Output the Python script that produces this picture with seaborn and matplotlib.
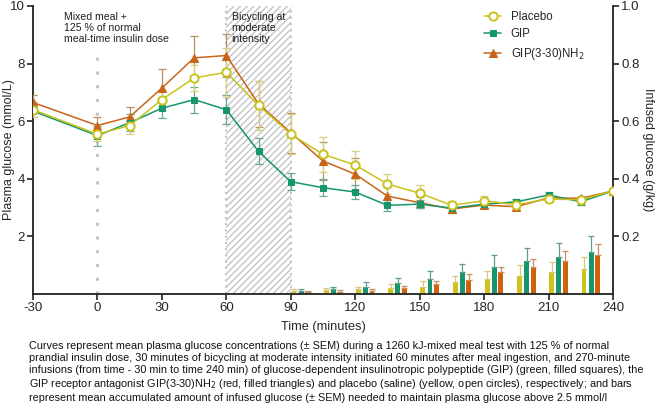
import numpy as np
import pandas as pd
import matplotlib
matplotlib.use("Agg")
import matplotlib.pyplot as plt
import seaborn as sns

times = [-30, 0, 15, 30, 45, 60, 75, 90, 105, 120, 135, 150, 165, 180, 195, 210, 225, 240]
placebo = [6.4, 5.55, 5.85, 6.75, 7.5, 7.7, 6.55, 5.55, 4.85, 4.48, 3.82, 3.5, 3.08, 3.24, 3.1, 3.3, 3.27, 3.58]
placebo_sem = [0.25, 0.25, 0.3, 0.35, 0.45, 0.85, 0.85, 0.7, 0.6, 0.5, 0.35, 0.3, 0.15, 0.15, 0.12, 0.12, 0.1, 0.05]
gip = [6.35, 5.5, 5.95, 6.45, 6.75, 6.4, 4.95, 3.9, 3.69, 3.54, 3.08, 3.12, 2.98, 3.12, 3.2, 3.44, 3.2, 3.58]
gip_sem = [0.2, 0.35, 0.3, 0.35, 0.45, 0.5, 0.45, 0.3, 0.3, 0.25, 0.2, 0.15, 0.12, 0.12, 0.1, 0.1, 0.1, 0.05]
ant = [6.65, 5.85, 6.15, 7.15, 8.2, 8.28, 6.6, 5.6, 4.62, 4.16, 3.4, 3.17, 2.95, 3.09, 3.03, 3.34, 3.32, 3.58]
ant_sem = [0.25, 0.3, 0.35, 0.65, 0.75, 0.75, 0.8, 0.7, 0.65, 0.55, 0.3, 0.2, 0.15, 0.12, 0.1, 0.1, 0.1, 0.05]

bar_times = [75, 90, 105, 120, 135, 150, 165, 180, 195, 210, 225]
bar_placebo = [0.005, 0.012, 0.014, 0.017, 0.021, 0.026, 0.041, 0.053, 0.064, 0.078, 0.088]
bar_placebo_sem = [0.002, 0.004, 0.006, 0.008, 0.012, 0.018, 0.021, 0.026, 0.035, 0.034, 0.04]
bar_gip = [0.003, 0.012, 0.017, 0.026, 0.037, 0.053, 0.076, 0.095, 0.114, 0.128, 0.145]
bar_gip_sem = [0.002, 0.006, 0.009, 0.015, 0.019, 0.026, 0.029, 0.039, 0.045, 0.05, 0.055]
bar_ant = [0.003, 0.006, 0.008, 0.012, 0.021, 0.033, 0.05, 0.076, 0.095, 0.116, 0.137]
bar_ant_sem = [0.002, 0.003, 0.005, 0.006, 0.008, 0.012, 0.018, 0.019, 0.027, 0.033, 0.035]

labels = ["Placebo", "GIP", "GIP(3-30)NH$_2$"]

C_Y = "#c8c21e"
C_G = "#16966a"
C_O = "#c8651a"
C_YB = "#cfc41c"
C_OB = "#d2600e"

sns.set_theme(style="ticks")
plt.rcParams["font.family"] = ["Liberation Sans", "DejaVu Sans"]
plt.rcParams["hatch.linewidth"] = 1.0
plt.rcParams["axes.unicode_minus"] = False

fig = plt.figure(figsize=(6.57, 4.03), dpi=100)
ax = fig.add_axes([33/657, 1-294/403, 580/657, 288/403])
ax2 = ax.twinx()

df = pd.DataFrame({
    "time": times * 3,
    "glucose": placebo + gip + ant,
    "group": [labels[0]] * len(times) + [labels[1]] * len(times) + [labels[2]] * len(times),
})

# shaded exercise region
ax.axvspan(60, 90, facecolor="white", edgecolor="#c4c4c4", hatch="/////", lw=0, zorder=0)
ax.axvline(60, color="#c4c4c4", ls=(0, (1, 2)), lw=1.5, zorder=0.5)
ax.axvline(90, color="#c4c4c4", ls=(0, (1, 2)), lw=1.5, zorder=0.5)
ax.plot([0, 0], [0, 8.5], color="#c4c4c4", ls=(0, (1, 3.5)), lw=2.2, zorder=0.5)

# bars on right axis
bw = 2.3
for vals, sems, col, ecol, off in [
    (bar_placebo, bar_placebo_sem, C_YB, "#d8c87a", 1.5),
    (bar_gip, bar_gip_sem, C_G, "#5f9e90", 4.8),
    (bar_ant, bar_ant_sem, C_OB, "#c89060", 7.8),
]:
    xs = np.array(bar_times) + off
    ax2.bar(xs, vals, width=bw, color=col, edgecolor="none", zorder=2)
    ax2.errorbar(xs, vals, yerr=[np.zeros(len(sems)), sems], fmt="none", ecolor=ecol,
                 elinewidth=0.9, capsize=2.5, capthick=0.9, zorder=2)

# error bars for curves
for vals, sems, ecol in [
    (ant, ant_sem, "#b99060"),
    (gip, gip_sem, "#6aa89a"),
    (placebo, placebo_sem, "#d8cf7a"),
]:
    ax.errorbar(times, vals, yerr=sems, fmt="none", ecolor=ecol, elinewidth=0.9,
                capsize=3, capthick=0.9, zorder=3)

sns.lineplot(data=df[df.group == labels[2]], x="time", y="glucose", ax=ax, color=C_O,
             marker="^", markersize=5.5, markeredgecolor=C_O, lw=1.1, label=labels[2], zorder=4)
sns.lineplot(data=df[df.group == labels[1]], x="time", y="glucose", ax=ax, color=C_G,
             marker="s", markersize=4.8, markeredgecolor=C_G, lw=1.1, label=labels[1], zorder=5)
sns.lineplot(data=df[df.group == labels[0]], x="time", y="glucose", ax=ax, color=C_Y,
             marker="o", markersize=6, markerfacecolor="white", markeredgecolor=C_Y,
             markeredgewidth=1.4, lw=1.1, label=labels[0], zorder=6)

ax.set_xlim(-30, 240)
ax.set_ylim(0, 10)
ax2.set_ylim(0, 1.0)
ax.set_xticks([-30, 0, 30, 60, 90, 120, 150, 180, 210, 240])
ax.set_yticks([2, 4, 6, 8, 10])
ax2.set_yticks([0.2, 0.4, 0.6, 0.8, 1.0])
ax2.set_yticklabels(["0.2", "0.4", "0.6", "0.8", "1.0"])

ax.set_xlabel("Time (minutes)", fontsize=9.2, labelpad=5)
ax.set_ylabel("Plasma glucose (mmol/L)", fontsize=9.0)
ax2.set_ylabel("Infused glucose (g/kg)", fontsize=9.0, rotation=-90, va="center")
ax.yaxis.set_label_coords(-24/580, 0.5)
ax2.yaxis.set_label_coords(1 + 35/580, 0.5)
ax.yaxis.label.set_va("center")

for a in (ax, ax2):
    a.tick_params(axis="both", labelsize=9.5, length=4, width=1.2, color="#222222", pad=2)
    for s in a.spines.values():
        s.set_linewidth(1.3)
        s.set_color("#222222")
    a.spines["top"].set_visible(False)
ax.spines["right"].set_visible(False)
ax2.spines["left"].set_visible(False)
ax2.spines["bottom"].set_visible(False)
ax.set_zorder(ax2.get_zorder() + 1)
ax.patch.set_visible(False)

ax.text(-15.5, 9.8, "Mixed meal +\n125 % of normal\nmeal-time insulin dose", fontsize=7.6,
        va="top", ha="left", color="#222222", linespacing=1.15)
ax.text(62.5, 9.8, "Bicycling at\nmoderate\nintensity", fontsize=7.6, va="top", ha="left",
        color="#222222", linespacing=1.15, zorder=7)

h, l = ax.get_legend_handles_labels()
order = [l.index(x) for x in labels]
leg = ax.legend([h[i] for i in order], [l[i] for i in order], loc="upper left",
                bbox_to_anchor=(0.76, 1.02), frameon=False, fontsize=8.3,
                handlelength=1.5, handletextpad=0.8, labelspacing=0.5)

caption = ("Curves represent mean plasma glucose concentrations (\u00b1 SEM) during a 1260 kJ-mixed meal test with 125 % of normal\n"
           "prandial insulin dose, 30 minutes of bicycling at moderate intensity initiated 60 minutes after meal ingestion, and 270-minute\n"
           "infusions (from time - 30 min to time 240 min) of glucose-dependent insulinotropic polypeptide (GIP) (green, filled squares), the\n"
           "GIP receptor antagonist GIP(3-30)NH$_2$ (red, filled triangles) and placebo (saline) (yellow, open circles), respectively; and bars\n"
           "represent mean accumulated amount of infused glucose (\u00b1 SEM) needed to maintain plasma glucose above 2.5 mmol/l")
fig.text(29/657, 1-341/403, caption, fontsize=7.85, va="top", ha="left", color="#111111",
         linespacing=1.24)

fig.savefig("out.png", dpi=100)
